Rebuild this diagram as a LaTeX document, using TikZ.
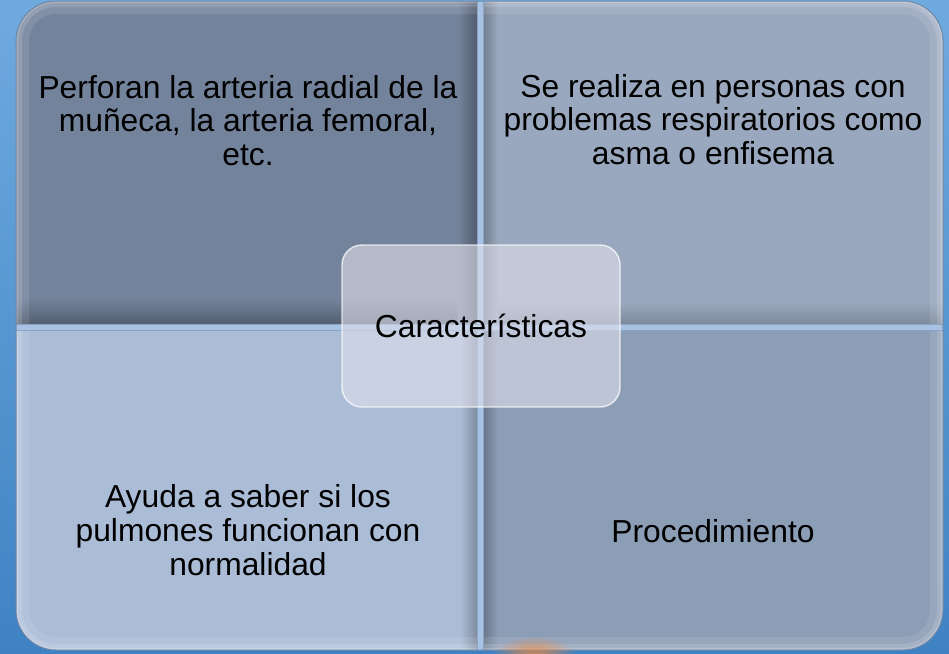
\documentclass[tikz,border=0pt]{standalone}
\usepackage{fontspec}
\setmainfont{Liberation Sans}
\usetikzlibrary{fadings}
\definecolor{bgtop}{HTML}{6FAADF}
\definecolor{bgbot}{HTML}{3F82C3}
\definecolor{qtl}{HTML}{74839C}
\definecolor{qtr}{HTML}{99A8BE}
\definecolor{qbl}{HTML}{AABCD6}
\definecolor{qbr}{HTML}{8C9DB6}
\definecolor{divc}{HTML}{A8C2E3}
\definecolor{dive}{HTML}{8AA3C6}
\definecolor{boxc}{RGB}{223,223,234}
\definecolor{rimc}{HTML}{6E86A8}
\definecolor{glowc}{HTML}{F28838}
\tikzfading[name=glowfade, inner color=transparent!0, outer color=transparent!100]
\begin{document}
\begin{tikzpicture}[x=1pt,y=-1pt,
  txt/.style={font=\fontsize{31.8}{33.7}\selectfont, text=black, align=center, inner sep=0pt},
  centerbox/.style={fill=boxc, fill opacity=0.6, draw=white, draw opacity=0.75, line width=1.4pt,
    rounded corners=20pt, minimum width=278pt, minimum height=162pt, text opacity=1,
    font=\fontsize{31.8}{33.7}\selectfont, inner sep=0pt},
  divider/.style={fill=divc, draw=dive, line width=0.6pt}]
\useasboundingbox (0,0) rectangle (949,653);
\shade[top color=bgtop, bottom color=bgbot] (0,0) rectangle (949,653);
\begin{scope}
  \clip[rounded corners=40pt] (16,1) rectangle (943,650);
  % quadrants
  \fill[qtl] (16,1) rectangle (477,324);
  \fill[qtr] (483,1) rectangle (943,324);
  \fill[qbl] (16,330) rectangle (477,650);
  \fill[qbr] (483,330) rectangle (943,650);
  % inner dark bevels
  \shade[top color=qtl, bottom color=qtl!72!black] (16,298) rectangle (477,324);
  \shade[left color=qtl, right color=qtl!70!black] (458,1) rectangle (477,324);
  \shade[top color=qtr, bottom color=qtr!82!black] (483,302) rectangle (943,324);
  \shade[left color=qtr!75!black, right color=qtr] (483,1) rectangle (498,324);
  \shade[left color=qbl, right color=qbl!75!black] (460,330) rectangle (477,650);
  \shade[left color=qbr!75!black, right color=qbr] (483,330) rectangle (498,650);
  % light outer rim
  \draw[white, opacity=0.10, line width=26pt, rounded corners=40pt] (16,1) rectangle (943,650);
  \draw[white, opacity=0.14, line width=12pt, rounded corners=40pt] (16,1) rectangle (943,650);
  \draw[white, opacity=0.18, line width=4pt, rounded corners=40pt] (16,1) rectangle (943,650);
  % dividers
  \path[divider] (477,-2) rectangle (483,655);
  \path[divider] (10,324) rectangle (950,330);
\end{scope}
\draw[rimc, line width=1pt, rounded corners=40pt] (16,1) rectangle (943,650);
% orange glow at the bottom edge
\begin{scope}
  \clip (440,630) rectangle (640,653);
  \fill[glowc, path fading=glowfade, opacity=1] (534,660) ellipse [x radius=44pt, y radius=24pt];
\end{scope}
% texts
\node[txt] (t1) at (248,120.5) {Perforan la arteria radial de la\\muñeca, la arteria femoral,\\etc.};
\node[txt] (t2) at (713,119.5) {Se realiza en personas con\\problemas respiratorios como\\asma o enfisema};
\node[txt] (t3) at (248,530) {Ayuda a saber si los\\pulmones funcionan con\\normalidad};
\node[txt, anchor=base] (t4) at (713,542) {Procedimiento};
% center box
\node[centerbox] (c) at (481,326) {Características};
\end{tikzpicture}
\end{document}
